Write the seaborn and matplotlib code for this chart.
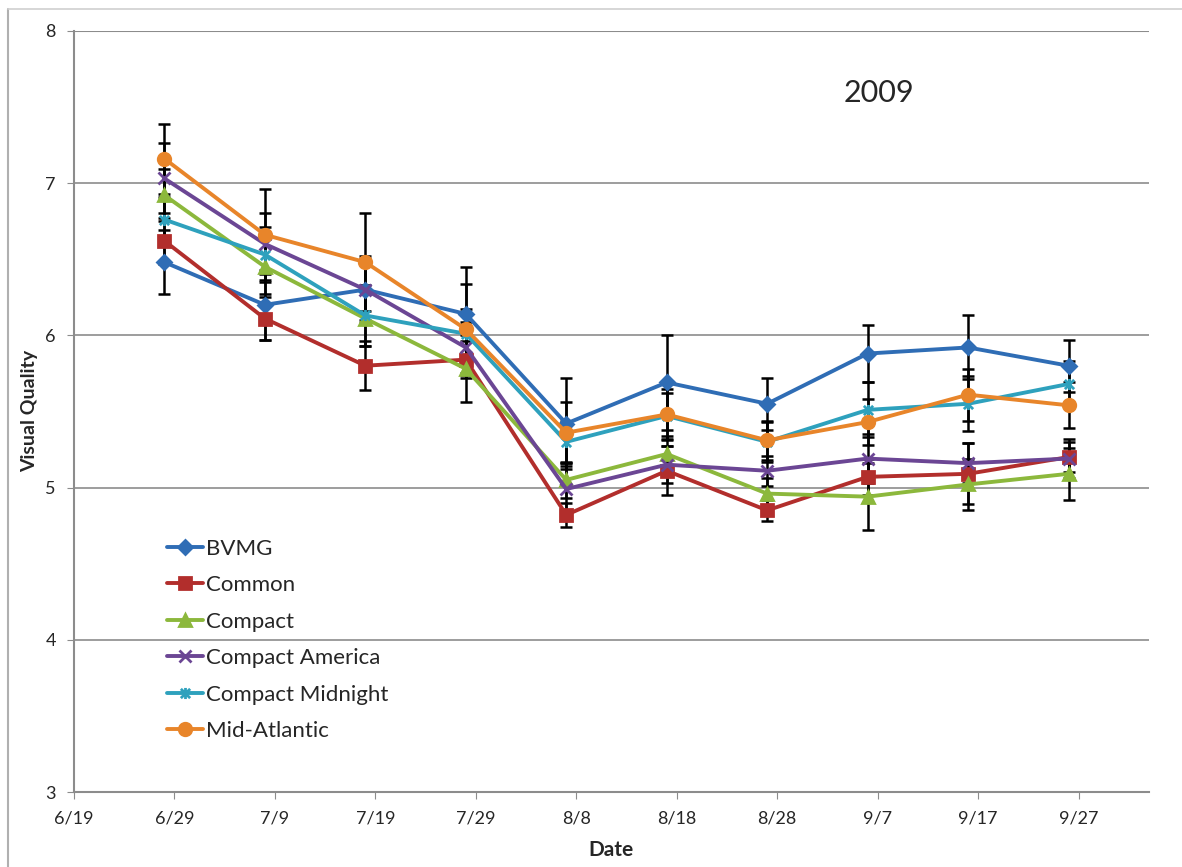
import numpy as np
import pandas as pd
import matplotlib
matplotlib.use('Agg')
import matplotlib.pyplot as plt
import matplotlib.dates as mdates
from matplotlib.lines import Line2D
from matplotlib.path import Path
from matplotlib.ticker import FuncFormatter
import seaborn as sns

# sampling dates (every 10 days)
dates = pd.date_range('2009-06-28', periods=10, freq='10D')

series_names = ['BVMG', 'Common', 'Compact', 'Compact America',
                'Compact Midnight', 'Mid-Atlantic']

bvmg = [6.48, 6.20, 6.30, 6.14, 5.42, 5.69, 5.55, 5.88, 5.92, 5.80]
common = [6.62, 6.11, 5.80, 5.84, 4.82, 5.11, 4.85, 5.07, 5.09, 5.20]
compact = [6.92, 6.45, 6.11, 5.78, 5.05, 5.22, 4.96, 4.94, 5.02, 5.09]
compact_america = [7.03, 6.60, 6.30, 5.92, 4.99, 5.15, 5.11, 5.19, 5.16, 5.19]
compact_midnight = [6.76, 6.53, 6.13, 6.01, 5.30, 5.47, 5.30, 5.51, 5.55, 5.68]
mid_atlantic = [7.16, 6.66, 6.48, 6.04, 5.36, 5.48, 5.31, 5.43, 5.61, 5.54]

# standard errors (read from the caps)
bvmg_err = [0.21, 0.23, 0.20, 0.31, 0.30, 0.31, 0.17, 0.19, 0.21, 0.17]
common_err = [0.15, 0.14, 0.16, 0.12, 0.08, 0.16, 0.07, 0.12, 0.20, 0.10]
compact_err = [0.17, 0.18, 0.18, 0.22, 0.12, 0.12, 0.10, 0.22, 0.17, 0.17]
compact_america_err = [0.23, 0.20, 0.22, 0.17, 0.15, 0.12, 0.10, 0.16, 0.13, 0.13]
compact_midnight_err = [0.15, 0.18, 0.20, 0.16, 0.14, 0.15, 0.13, 0.18, 0.18, 0.15]
mid_atlantic_err = [0.23, 0.30, 0.32, 0.30, 0.20, 0.17, 0.13, 0.15, 0.17, 0.15]

values = [bvmg, common, compact, compact_america, compact_midnight, mid_atlantic]
errors = [bvmg_err, common_err, compact_err, compact_america_err,
          compact_midnight_err, mid_atlantic_err]

# Excel-style star: an X with a vertical bar
star = Path([(-1, -1), (1, 1), (-1, 1), (1, -1), (0, -1.2), (0, 1.2)],
            [Path.MOVETO, Path.LINETO, Path.MOVETO, Path.LINETO,
             Path.MOVETO, Path.LINETO])

colors = {'BVMG': '#2F6DB5', 'Common': '#B22E2C', 'Compact': '#8CB83C',
          'Compact America': '#6B4694', 'Compact Midnight': '#2EA1BD',
          'Mid-Atlantic': '#E8852A'}
markers = {'BVMG': 'D', 'Common': 's', 'Compact': '^',
           'Compact America': 'x', 'Compact Midnight': star,
           'Mid-Atlantic': 'o'}
msizes = {'BVMG': 7.5, 'Common': 8.5, 'Compact': 9, 'Compact America': 8,
          'Compact Midnight': 8, 'Mid-Atlantic': 9}

rows = []
for name, vals, errs in zip(series_names, values, errors):
    for d, v, e in zip(dates, vals, errs):
        rows.append({'Date': d, 'Visual Quality': v, 'err': e, 'Series': name})
df = pd.DataFrame(rows)

sns.set_style('white')
plt.rcParams['font.family'] = ['Lato', 'DejaVu Sans']

fig = plt.figure(figsize=(11.82, 8.67), dpi=100)
ax = fig.add_axes([0.0626, 0.0865, 0.9094, 0.878])

# error bars behind the lines
for name in series_names:
    sub = df[df['Series'] == name]
    ax.errorbar(sub['Date'], sub['Visual Quality'], yerr=sub['err'],
                fmt='none', ecolor='black', elinewidth=1.8, capsize=4,
                capthick=1.8, zorder=1.5)

for name in series_names:
    sub = df[df['Series'] == name]
    sns.lineplot(data=sub, x='Date', y='Visual Quality', color=colors[name],
                 marker=markers[name], linewidth=2.8, markersize=msizes[name],
                 markeredgecolor=colors[name], markeredgewidth=2,
                 ax=ax, zorder=2)

ax.set_ylim(3, 8)
ax.set_yticks([3, 4, 5, 6, 7, 8])
ax.set_xlim(pd.Timestamp('2009-06-19'), pd.Timestamp('2009-10-04'))
ax.set_xticks(pd.date_range('2009-06-19', periods=11, freq='10D'))
ax.xaxis.set_major_formatter(FuncFormatter(
    lambda x, pos: f"{mdates.num2date(x).month}/{mdates.num2date(x).day}"))

ax.grid(axis='y', color='#8C8C8C', linewidth=1.2)
ax.grid(axis='x', visible=False)
ax.set_axisbelow(True)
for side in ['top', 'right']:
    ax.spines[side].set_visible(False)
for side in ['left', 'bottom']:
    ax.spines[side].set_color('#8C8C8C')
    ax.spines[side].set_linewidth(1.5)
ax.axhline(8, color='#8C8C8C', linewidth=1.5, zorder=0)

ax.tick_params(axis='both', labelsize=13, length=5, color='#8C8C8C',
               direction='out', bottom=True, left=True, pad=8)
ax.set_xlabel('Date', fontsize=15, fontweight='bold', labelpad=10)
ax.set_ylabel('Visual Quality', fontsize=14, fontweight='bold', labelpad=5)

ax.text(0.749, 0.918, '2009', transform=ax.transAxes, fontsize=22,
        ha='center', va='center')

handles = [Line2D([0], [0], color=colors[n], marker=markers[n], linewidth=2.8,
                  markersize=msizes[n], markeredgecolor=colors[n],
                  markeredgewidth=2)
           for n in series_names]
ax.legend(handles, series_names, loc='upper left',
          bbox_to_anchor=(0.068, 0.359), frameon=False, fontsize=16,
          handlelength=1.6, handletextpad=0.15, labelspacing=0.74)

# outer chart-area frame (left and top edges)
fig.add_artist(Line2D([8 / 1182, 8 / 1182], [0, 1 - 9 / 867],
                      transform=fig.transFigure, color='#B0B0B0', linewidth=1.5))
fig.add_artist(Line2D([8 / 1182, 1], [1 - 9 / 867, 1 - 9 / 867],
                      transform=fig.transFigure, color='#D0D0D0', linewidth=1.2))

fig.savefig('out.png', dpi=100)
